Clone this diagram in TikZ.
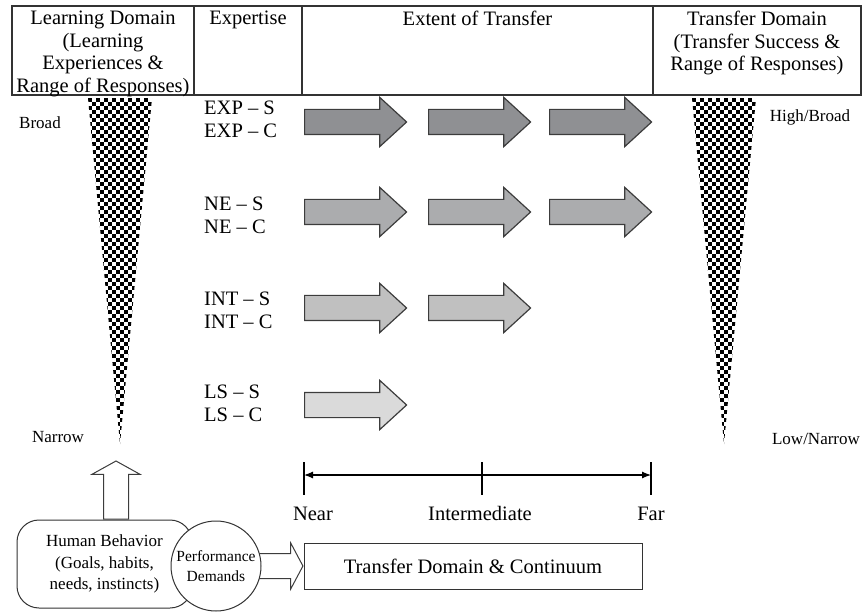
\documentclass[tikz,border=0pt]{standalone}
\usepackage{fontspec}
\setmainfont{Liberation Serif}
\usetikzlibrary{arrows.meta,shapes.arrows,positioning}
\definecolor{TransferEdge}{HTML}{3C3C3C}
\definecolor{TransferDark}{HTML}{8F9093}
\definecolor{TransferMid}{HTML}{ABACAE}
\definecolor{TransferLight}{HTML}{C0C0C0}
\definecolor{TransferPale}{HTML}{DADADA}
\definecolor{TableLine}{HTML}{333333}

\begin{document}
\begin{tikzpicture}[x=1pt, y=-1pt,
  font=\fontsize{20.5}{22.5}\selectfont,
  table/.style={draw=TableLine, line width=1.4pt},
  head/.style={anchor=north, align=center, inner sep=0pt},
  level/.style={anchor=north west, align=left, inner sep=0pt, font=\fontsize{20.5}{23}\selectfont},
  side/.style={anchor=base, inner sep=0pt, font=\fontsize{17}{20}\selectfont},
  reach/.style={shape=single arrow, draw=TransferEdge, line width=1.2pt, inner xsep=0pt, inner ysep=12pt,
    single arrow head extend=12pt, single arrow tip angle=85, minimum height=102pt, anchor=tail},
  hollow/.style={shape=single arrow, draw=TransferEdge, fill=white, line width=1pt, inner xsep=0pt, inner ysep=12pt},
  continuum/.style={{Latex[length=9pt,width=7pt]}-{Latex[length=9pt,width=7pt]}, line width=1.2pt, draw=black}
]
\useasboundingbox (0,0) rectangle (862,612);

% header table
\draw[table] (12,6) rectangle (861,95);
\draw[table] (194,6) -- (194,95);
\draw[table] (302,6) -- (302,95);
\draw[table] (653,6) -- (653,95);
\node[head] (learnHd) at (103,11) {Learning Domain\\(Learning\\Experiences \&\\Range of Responses)};
\node[head] (expertHd) at (248,11) {Expertise};
\node[head] (extentHd) at (477.5,11) {Extent of Transfer};
\node[head] (transferHd) at (757,11) {Transfer Domain\\(Transfer Success \&\\Range of Responses)};

% checkered funnels
\foreach \fx in {88,692} {
  \begin{scope}
    \clip (\fx,98) -- ({\fx+64},98) -- ({\fx+32},444) -- cycle;
    \foreach \r in {0,...,87}
      \foreach \c in {0,2,...,16}
        \fill ({\fx+(\c+mod(\r,2))*4},{98+\r*4}) rectangle ++(4,4);
  \end{scope}
}
\node[side] (broad) at (40,128.5) {Broad};
\node[side] (narrow) at (58,442.5) {Narrow};
\node[side] (highBroad) at (810,122) {High/Broad};
\node[side] (lowNarrow) at (816,444) {Low/Narrow};

% expertise levels
\node[level] (expLv) at (204,101) {EXP – S\\EXP – C};
\node[level] (neLv) at (204,197) {NE – S\\NE – C};
\node[level] (intLv) at (204,292) {INT – S\\INT – C};
\node[level] (lsLv) at (204,385) {LS – S\\LS – C};

% extent arrows
\node[reach, fill=TransferDark] (exp1) at (304,122) {};
\node[reach, fill=TransferDark] (exp2) at (428,122) {};
\node[reach, fill=TransferDark] (exp3) at (549,122) {};
\node[reach, fill=TransferMid] (ne1) at (304,212) {};
\node[reach, fill=TransferMid] (ne2) at (428,212) {};
\node[reach, fill=TransferMid] (ne3) at (549,212) {};
\node[reach, fill=TransferLight] (int1) at (304,308) {};
\node[reach, fill=TransferLight] (int2) at (428,308) {};
\node[reach, fill=TransferPale] (ls1) at (304,405) {};

% continuum scale
\coordinate (near) at (304,475);
\coordinate (mid) at (482,475);
\coordinate (far) at (651,475);
\draw[continuum] (near) -- (far);
\foreach \t in {near,mid,far}
  \draw[line width=1.2pt] ([yshift=13pt]\t) -- ([yshift=-20pt]\t);
\node[anchor=base, inner sep=0pt] (nearLbl) at (313,520) {Near};
\node[anchor=base, inner sep=0pt] (midLbl) at (480,520) {Intermediate};
\node[anchor=base, inner sep=0pt] (farLbl) at (651,520) {Far};

% bottom boxes
\node[draw=TableLine, line width=1pt, minimum width=338pt, minimum height=46pt] (tdc) at (473,566) {Transfer Domain \& Continuum};
\node[draw=TableLine, line width=1pt, rounded corners=22pt, minimum width=175pt, minimum height=88pt,
  align=center, font=\fontsize{17}{21.5}\selectfont] (human) at (104.5,564) {Human Behavior\\(Goals, habits,\\needs, instincts)};
\node[hollow, single arrow head extend=10.5pt, single arrow tip angle=124, minimum height=48pt, anchor=tip] (pushArrow) at (tdc.west) {};
\node[draw=TableLine, line width=1pt, fill=white, circle, minimum size=90pt, inner sep=0pt, align=center,
  font=\fontsize{15.5}{20}\selectfont] (perf) at (216,566) {Performance\\Demands};
\node[hollow, inner xsep=12pt, inner ysep=0pt, shape border rotate=90, single arrow head extend=11.5pt, single arrow tip angle=122, minimum height=58pt, anchor=tail] (upArrow) at ([xshift=11.5pt]human.north) {};
\end{tikzpicture}
\end{document}
